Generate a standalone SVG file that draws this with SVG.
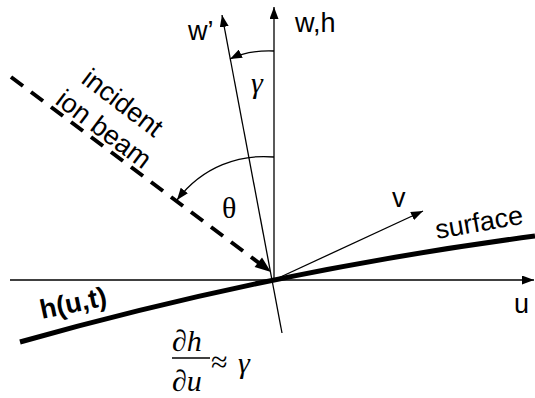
<svg xmlns="http://www.w3.org/2000/svg" width="535" height="398" viewBox="0 0 535 398">
<defs>
<style>
.ax{fill:none;stroke:#000;stroke-width:1.3}
.lbl{font-family:"Liberation Sans",Arial,sans-serif;font-size:27px;fill:#000}
.math{font-family:"Liberation Serif","Times New Roman",serif;font-size:30px;fill:#000}
</style>
<marker id="ah" markerUnits="userSpaceOnUse" markerWidth="12" markerHeight="9" refX="12" refY="4.5" orient="auto">
<path d="M0,0 L12,4.5 L0,9 z" fill="#000"/>
</marker>
</defs>
<g id="connectors">
<line class="ax" x1="10" y1="280" x2="534" y2="280" marker-end="url(#ah)"/>
<line class="ax" x1="274" y1="280" x2="274" y2="7" marker-end="url(#ah)"/>
<line class="ax" x1="282" y1="333" x2="222" y2="15" marker-end="url(#ah)"/>
<line class="ax" x1="274" y1="280" x2="423" y2="211" marker-end="url(#ah)"/>
<path class="ax" d="M274,51 Q248,50 230,59" marker-end="url(#ah)"/>
<path class="ax" d="M274,157 C240,154 203,166 177,200" marker-end="url(#ah)"/>
<line x1="11" y1="77" x2="259" y2="263" stroke="#000" stroke-width="4" stroke-dasharray="15 10"/>
<polygon points="271,272 254.6,267 262,257.4" fill="#000"/>
<path d="M20,342 Q270.5,271 535,236" fill="none" stroke="#000" stroke-width="5"/>
</g>
<g id="labels">
<text class="lbl" x="188" y="40">w’</text>
<text class="lbl" x="295" y="32">w,h</text>
<text class="lbl" x="392" y="207">v</text>
<text class="lbl" x="514" y="313">u</text>
<text class="lbl" transform="translate(80,82) rotate(37)">incident</text>
<text class="lbl" transform="translate(54,103) rotate(37)">ion beam</text>
<text class="lbl" transform="translate(437,239) rotate(-10)">surface</text>
<text class="lbl" font-weight="bold" font-size="26" transform="translate(42,319) rotate(-12)">h(u,t)</text>
<text class="math" x="251" y="93" font-size="27" font-style="italic">γ</text>
<text class="math" x="222" y="218" font-size="28">θ</text>
</g>
<g id="formula">
<text class="math" x="172" y="351" font-style="italic">∂h</text>
<line x1="172" y1="358" x2="210" y2="358" stroke="#000" stroke-width="1.3"/>
<text class="math" x="172" y="391" font-style="italic">∂u</text>
<text class="math" x="211" y="372" font-size="34">≈</text>
<text class="math" x="238" y="373" font-style="italic">γ</text>
</g>
</svg>
